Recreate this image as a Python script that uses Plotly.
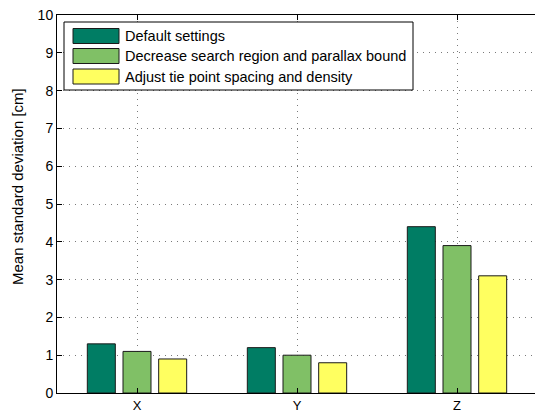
import plotly.graph_objects as go

categories = ["X", "Y", "Z"]
series_names = ["Default settings",
                "Decrease search region and parallax bound",
                "Adjust tie point spacing and density"]
default_vals = [1.3, 1.2, 4.4]
decrease_vals = [1.1, 1.0, 3.9]
adjust_vals = [0.9, 0.8, 3.1]
colors = ["#007d64", "#80c066", "#ffff60"]
y_ticks = list(range(0, 11))

W, H = 535, 412
L, R, T, B = 57, 0, 15, 19
pw, ph = W - L - R, H - T - B


def px(x):
    return (x - L) / pw


def py(y):
    return 1 - (y - T) / ph


fig = go.Figure()
for name, vals, col in zip(series_names, [default_vals, decrease_vals, adjust_vals], colors):
    fig.add_trace(go.Bar(x=categories, y=vals, name=name, marker_color=col,
                         marker_line=dict(color="#1a1a1a", width=1), showlegend=False))

font = "Liberation Sans, Arial, Helvetica, sans-serif"

# legend box
shapes = [dict(type="rect", xref="paper", yref="paper", x0=px(64), x1=px(413), y0=py(22), y1=py(90),
               fillcolor="white", line=dict(color="black", width=1), layer="above")]
annotations = []
rows = [(28.5, 43.5), (48.5, 63.5), (69, 84)]
for (y0, y1), name, col in zip(rows, series_names, colors):
    shapes.append(dict(type="rect", xref="paper", yref="paper", x0=px(73), x1=px(119), y0=py(y0), y1=py(y1),
                       fillcolor=col, line=dict(color="#1a1a1a", width=1), layer="above"))
    annotations.append(dict(xref="paper", yref="paper", x=px(123), y=py((y0 + y1) / 2), text=name,
                            showarrow=False, xanchor="left", yanchor="middle",
                            font=dict(size=14.5, color="black", family=font)))

annotations.append(dict(xref="paper", yref="paper", x=px(17), y=py(187), text="Mean standard deviation [cm]",
                        textangle=-90, showarrow=False, xanchor="center", yanchor="middle",
                        font=dict(size=15, color="black", family=font)))

grid = dict(showgrid=True, gridcolor="#7a7a7a", griddash="1px,5px", gridwidth=1)

fig.update_layout(
    width=W, height=H,
    margin=dict(l=L, r=R, t=T, b=B, pad=0),
    paper_bgcolor="white", plot_bgcolor="white",
    barmode="group", bargap=0.331, bargroupgap=0.215,
    font=dict(family=font, size=14, color="black"),
    shapes=shapes, annotations=annotations,
    xaxis=dict(range=[-0.5, 2.4875], showline=True, linecolor="black", linewidth=1, mirror="ticks",
               ticks="inside", ticklen=5, tickcolor="black", zeroline=False, automargin=False,
               ticklabeloverflow="allow", tickfont=dict(size=13), **grid),
    yaxis=dict(range=[0, 10], tickvals=y_ticks, showline=True, linecolor="black", linewidth=1,
               ticks="inside", ticklen=5, tickcolor="black", zeroline=False, automargin=False,
               ticklabeloverflow="allow", tickfont=dict(size=14), **grid),
)

fig.write_html("out.html", config={"displayModeBar": False},
               post_script="document.body.style.margin='0';document.body.style.overflow='hidden';")
